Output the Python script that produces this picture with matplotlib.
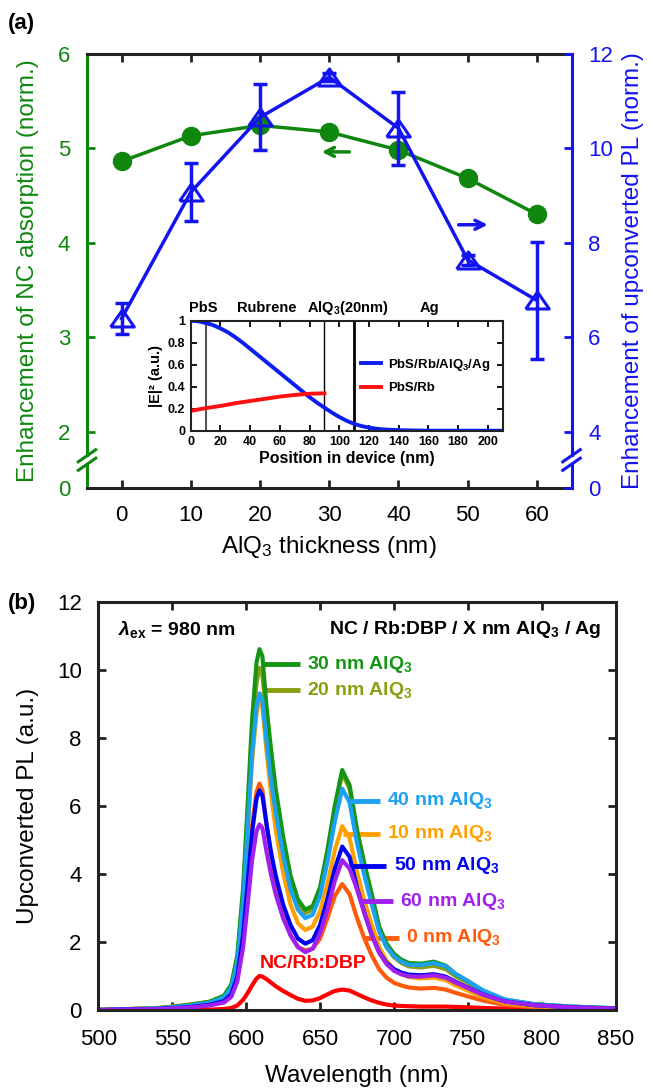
import matplotlib
matplotlib.use("Agg")
import matplotlib.pyplot as plt

plt.rcParams["font.family"] = ["Liberation Sans", "DejaVu Sans"]
plt.rcParams["mathtext.fontset"] = "custom"
plt.rcParams["mathtext.rm"] = "Liberation Sans"
plt.rcParams["mathtext.bf"] = "Liberation Sans:bold"
plt.rcParams["mathtext.it"] = "Liberation Sans:italic:bold"

GREEN = "#0f870f"
BLUE = "#1414f0"
DARK = "#222222"

# ---------------- panel (a) data ----------------
thickness = [0, 10, 20, 30, 40, 50, 60]
nc_absorption = [4.86, 5.13, 5.24, 5.17, 4.98, 4.68, 4.30]
upconv_pl = [6.40, 9.07, 10.65, 11.50, 10.42, 7.64, 6.78]
upconv_err = [0.32, 0.62, 0.70, 0.08, 0.77, 0.10, 1.23]

# inset: field intensity across the device
pos_full = [0, 5, 10, 15, 20, 25, 30, 35, 40, 45, 50, 55, 60, 65, 70, 75, 80, 85, 90, 95,
            100, 105, 110, 115, 120, 125, 130, 140, 150, 160, 210]
e2_full = [1.0, 0.995, 0.98, 0.96, 0.93, 0.895, 0.85, 0.80, 0.745, 0.69, 0.635, 0.58,
           0.525, 0.47, 0.415, 0.36, 0.305, 0.255, 0.21, 0.165, 0.125, 0.09, 0.062, 0.042,
           0.028, 0.018, 0.011, 0.005, 0.002, 0.0, 0.0]
pos_rb = [0, 10, 20, 30, 40, 50, 60, 70, 80, 90]
e2_rb = [0.18, 0.205, 0.225, 0.25, 0.27, 0.29, 0.31, 0.325, 0.336, 0.34]

# ---------------- panel (b) data ----------------
wl = [500, 540, 560, 575, 585, 590, 594, 598, 601, 604, 607, 609, 611, 614, 617, 620, 625,
      630, 635, 640, 645, 650, 655, 660, 665, 670, 675, 680, 685, 690, 695, 700, 705, 710,
      718, 727, 735, 742, 750, 760, 775, 795, 820, 850]
pl_nc = [0.00, 0.0, 0.0, 0.01, 0.03, 0.06, 0.13, 0.3, 0.5, 0.72, 0.92, 1.0, 0.98, 0.9, 0.8,
         0.7, 0.56, 0.44, 0.33, 0.27, 0.28, 0.35, 0.46, 0.56, 0.6, 0.57, 0.47, 0.37, 0.28,
         0.21, 0.16, 0.13, 0.12, 0.11, 0.10, 0.10, 0.10, 0.09, 0.08, 0.06, 0.04, 0.03, 0.02, 0.01]
pl_0 = [0.00, 0.04, 0.10, 0.17, 0.28, 0.48, 1.0, 2.3, 3.85, 5.4, 6.4, 6.65, 6.45, 5.4, 4.5,
        3.75, 2.85, 2.2, 1.85, 1.75, 1.80, 2.1, 2.7, 3.35, 3.7, 3.4, 2.7, 2.1, 1.6, 1.2, 0.95,
        0.8, 0.72, 0.66, 0.63, 0.65, 0.6, 0.5, 0.4, 0.28, 0.15, 0.08, 0.05, 0.02]
pl_10 = [0.00, 0.06, 0.15, 0.24, 0.38, 0.64, 1.35, 3.1, 5.2, 7.3, 8.7, 9.1, 8.9, 7.5, 6.3,
         5.3, 4.05, 3.1, 2.55, 2.35, 2.45, 2.9, 3.7, 4.7, 5.4, 5.05, 4.05, 3.2, 2.5, 1.85,
         1.45, 1.2, 1.05, 0.97, 0.93, 0.95, 0.88, 0.72, 0.57, 0.38, 0.20, 0.11, 0.06, 0.03]
pl_20 = [0.00, 0.05, 0.13, 0.23, 0.40, 0.70, 1.5, 3.4, 5.7, 8.0, 9.6, 10.05, 9.85, 8.4, 7.2,
         6.2, 4.85, 3.8, 3.15, 2.85, 2.95, 3.5, 4.6, 5.9, 6.95, 6.5, 5.2, 4.2, 3.3, 2.35,
         1.85, 1.55, 1.38, 1.28, 1.25, 1.30, 1.20, 0.98, 0.80, 0.53, 0.28, 0.16, 0.09, 0.05]
pl_30 = [0.00, 0.05, 0.14, 0.24, 0.42, 0.75, 1.6, 3.6, 6.0, 8.5, 10.2, 10.6, 10.4, 8.8, 7.6,
         6.5, 5.1, 3.95, 3.25, 2.95, 3.05, 3.6, 4.7, 6.0, 7.05, 6.6, 5.3, 4.3, 3.4, 2.45,
         1.95, 1.65, 1.48, 1.38, 1.36, 1.42, 1.30, 1.05, 0.85, 0.57, 0.30, 0.17, 0.10, 0.05]
pl_40 = [0.00, 0.05, 0.12, 0.21, 0.37, 0.66, 1.4, 3.2, 5.3, 7.5, 8.9, 9.3, 9.1, 7.8, 6.7,
         5.8, 4.55, 3.55, 2.95, 2.7, 2.8, 3.35, 4.35, 5.55, 6.5, 6.1, 4.9, 3.95, 3.1, 2.3,
         1.85, 1.58, 1.42, 1.33, 1.32, 1.38, 1.28, 1.05, 0.85, 0.58, 0.31, 0.17, 0.10, 0.05]
pl_50 = [0.00, 0.03, 0.08, 0.15, 0.26, 0.46, 0.98, 2.2, 3.7, 5.2, 6.2, 6.45, 6.3, 5.4, 4.6,
         3.95, 3.1, 2.5, 2.1, 1.95, 2.05, 2.5, 3.25, 4.15, 4.8, 4.5, 3.6, 2.85, 2.2, 1.7,
         1.38, 1.2, 1.1, 1.04, 1.02, 1.05, 0.98, 0.82, 0.66, 0.46, 0.25, 0.14, 0.08, 0.04]
pl_60 = [0.00, 0.03, 0.07, 0.13, 0.22, 0.39, 0.83, 1.85, 3.1, 4.4, 5.25, 5.45, 5.35, 4.6,
         3.95, 3.4, 2.7, 2.2, 1.85, 1.70, 1.80, 2.25, 2.95, 3.8, 4.4, 4.15, 3.55, 2.85, 2.2,
         1.68, 1.35, 1.15, 1.05, 0.99, 0.98, 1.02, 0.95, 0.80, 0.65, 0.45, 0.25, 0.14, 0.08, 0.04]

# (label, series, colour, label y, segment x-range)
spectra = [
    ("NC/Rb:DBP", pl_nc, "#ff0000", None, None),
    ("0 nm", pl_0, "#ff5a0a", 2.12, (679.4, 703.3)),
    ("10 nm", pl_10, "#ffa000", 5.18, (665.6, 690.6)),
    ("20 nm", pl_20, "#8a9e10", 9.40, (612.4, 636.2)),
    ("30 nm", pl_30, "#149614", 10.16, (612.4, 636.2)),
    ("40 nm", pl_40, "#1ea0f0", 6.15, (669.6, 690.6)),
    ("50 nm", pl_50, "#0000f0", 4.24, (671.0, 694.7)),
    ("60 nm", pl_60, "#a020f0", 3.20, (678.1, 699.1)),
]

fig = plt.figure(figsize=(6.49, 10.90), dpi=100)

# ================= panel (a) =================
ax = fig.add_axes([87 / 649, 1 - 488 / 1090, 484.5 / 649, 434.5 / 1090])
ax2 = ax.twinx()

ax.plot(thickness, nc_absorption, "-o", color=GREEN, lw=2.5, ms=13)
ax2.errorbar(thickness, upconv_pl, yerr=upconv_err, fmt="none", ecolor=BLUE,
             elinewidth=2.5, capsize=5, capthick=2.5)
tri = [(-1, -0.72), (1, -0.72), (0, 0.72), (-1, -0.72)]
ax2.plot(thickness, upconv_pl, "-", color=BLUE, lw=2.5, marker=tri, ms=17,
         mfc="none", mec=BLUE, mew=2.2)

ax.set_xlim(-5, 65)
ax.set_ylim(1.408, 6)
ax2.set_ylim(2.816, 12)
ax.set_xticks(thickness)
ax.set_yticks([1.408, 2, 3, 4, 5, 6], ["0", "2", "3", "4", "5", "6"])
ax2.set_yticks([2.816, 4, 6, 8, 10, 12], ["0", "4", "6", "8", "10", "12"])

ax.tick_params(axis="x", direction="in", top=True, length=6, width=2, color=DARK,
               labelsize=16, pad=12)
ax.tick_params(axis="y", direction="in", length=6, width=2, colors=GREEN,
               labelsize=16, pad=12)
ax2.tick_params(axis="y", direction="in", length=6, width=2, colors=BLUE,
                labelsize=16, pad=12)

for a in (ax, ax2):
    for s in a.spines.values():
        s.set_linewidth(2.2)
        s.set_color(DARK)
ax.spines["right"].set_visible(False)
ax2.spines["left"].set_visible(False)
ax2.spines["top"].set_visible(False)
ax2.spines["bottom"].set_visible(False)
ax.spines["left"].set_color(GREEN)
ax2.spines["right"].set_color(BLUE)

# broken axes
ax.spines["left"].set_bounds(1.76, 6)
ax2.spines["right"].set_bounds(3.52, 12)
ax.plot([0, 0], [1.408, 1.65], transform=ax.get_yaxis_transform(), color=GREEN,
        lw=2.2, clip_on=False)
ax2.plot([1, 1], [2.816, 3.30], transform=ax2.get_yaxis_transform(), color=BLUE,
         lw=2.2, clip_on=False)
for dy in (-0.045, 0.045):
    ax.plot([-0.018, 0.018], [1.640 + dy, 1.768 + dy], transform=ax.get_yaxis_transform(),
            color=GREEN, lw=2.2, clip_on=False)
    ax2.plot([0.982, 1.018], [3.280 + 2 * dy, 3.536 + 2 * dy],
             transform=ax2.get_yaxis_transform(), color=BLUE, lw=2.2, clip_on=False)

ax.annotate("", xy=(28.5, 4.96), xytext=(33.3, 4.96),
            arrowprops=dict(arrowstyle="->", color=GREEN, lw=2.5, mutation_scale=16))
ax2.annotate("", xy=(53.3, 8.38), xytext=(48.3, 8.38),
             arrowprops=dict(arrowstyle="->", color=BLUE, lw=2.5, mutation_scale=16))

ax.set_xlabel("AlQ$_3$ thickness (nm)", fontsize=17.5)
ax.xaxis.set_label_coords(0.5, -0.105)
ax.set_ylabel("Enhancement of NC absorption (norm.)", fontsize=17.5, color=GREEN)
ax.yaxis.set_label_coords(-0.10, 0.5)
ax2.set_ylabel("Enhancement of upconverted PL (norm.)", fontsize=17.5, color=BLUE)
ax2.yaxis.set_label_coords(1.105, 0.5)

fig.text(8 / 649, 1 - 24 / 1090, "(a)", fontsize=16, fontweight="bold", va="center")

# inset
ins = fig.add_axes([190.7 / 649, 1 - 430.7 / 1090, 312 / 649, 110 / 1090])
ins.set_facecolor("white")
ins.axvline(10, color="#555555", lw=1.5)
ins.axvline(90, color="black", lw=1.0)
ins.axvline(110, color="black", lw=2.0)
ins.plot(pos_full, e2_full, color="#0a1ef0", lw=2.8, label="PbS/Rb/AlQ$_\\mathbf{3}$/Ag")
ins.plot(pos_rb, e2_rb, color="#ff1010", lw=2.8, label="PbS/Rb")
ins.set_xlim(0, 210)
ins.set_ylim(0, 1)
ins.set_xticks(range(0, 211, 20))
ins.set_yticks([0, 0.2, 0.4, 0.6, 0.8, 1.0], ["0", "0.2", "0.4", "0.6", "0.8", "1"])
ins.tick_params(direction="in", top=True, right=True, length=4, width=1.3,
                labelsize=9, pad=4)
for lab in ins.get_xticklabels() + ins.get_yticklabels():
    lab.set_fontweight("bold")
for s in ins.spines.values():
    s.set_linewidth(1.5)
    s.set_color(DARK)
ins.set_xlabel("Position in device (nm)", fontsize=11.5, fontweight="bold", labelpad=2)
ins.set_ylabel("|E|² (a.u.)", fontsize=10.5, fontweight="bold", labelpad=3)
for xx, txt in [(8.5, "PbS"), (50.9, "Rubrene"), (105.7, "AlQ$_\\mathbf{3}$(20nm)"), (160.6, "Ag")]:
    ins.text(xx, 1.115, txt, transform=ins.get_xaxis_transform(), ha="center",
             va="center", fontsize=10.5, fontweight="bold")
ins.legend(loc="center right", bbox_to_anchor=(1.0, 0.5), frameon=False,
           prop={"weight": "bold", "size": 9.5}, handlelength=1.5, handletextpad=0.6,
           labelspacing=0.7)

# ================= panel (b) =================
bx = fig.add_axes([98.3 / 649, 1 - 1010 / 1090, 517.4 / 649, 408.5 / 1090])
for name, ys, col, ly, seg in spectra:
    bx.plot(wl, ys, color=col, lw=3.0, solid_joinstyle="round")
    if seg is not None:
        bx.plot(seg, [ly, ly], color=col, lw=3.5, solid_capstyle="butt")
        bx.text(seg[1] + 5, ly, name + " AlQ$_\\mathbf{3}$", color=col, fontsize=14,
                fontweight="bold", va="center", ha="left")
bx.text(609.4, 1.36, "NC/Rb:DBP", color="#ff0000", fontsize=14, fontweight="bold",
        va="center", ha="left")

bx.set_xlim(500, 850)
bx.set_ylim(0, 12)
bx.set_xticks(range(500, 851, 50))
bx.set_yticks(range(0, 13, 2))
bx.tick_params(direction="in", top=True, right=True, length=6, width=2, color=DARK,
               labelsize=16)
bx.tick_params(axis="x", pad=14)
bx.tick_params(axis="y", pad=12)
for s in bx.spines.values():
    s.set_linewidth(2.2)
    s.set_color(DARK)

bx.text(513.3, 11.19, "$\\lambda_{\\mathbf{ex}}$ = 980 nm", fontsize=14, fontweight="bold",
        va="center", ha="left")
bx.text(840.1, 11.19, "NC / Rb:DBP / X nm AlQ$_\\mathbf{3}$ / Ag", fontsize=14,
        fontweight="bold", va="center", ha="right")

bx.set_xlabel("Wavelength (nm)", fontsize=17.5)
bx.xaxis.set_label_coords(0.5, -0.135)
bx.set_ylabel("Upconverted PL (a.u.)", fontsize=17.5)
bx.yaxis.set_label_coords(-0.115, 0.5)

fig.text(8 / 649, 1 - 603 / 1090, "(b)", fontsize=16, fontweight="bold", va="center")

fig.savefig("out.png", dpi=100)
